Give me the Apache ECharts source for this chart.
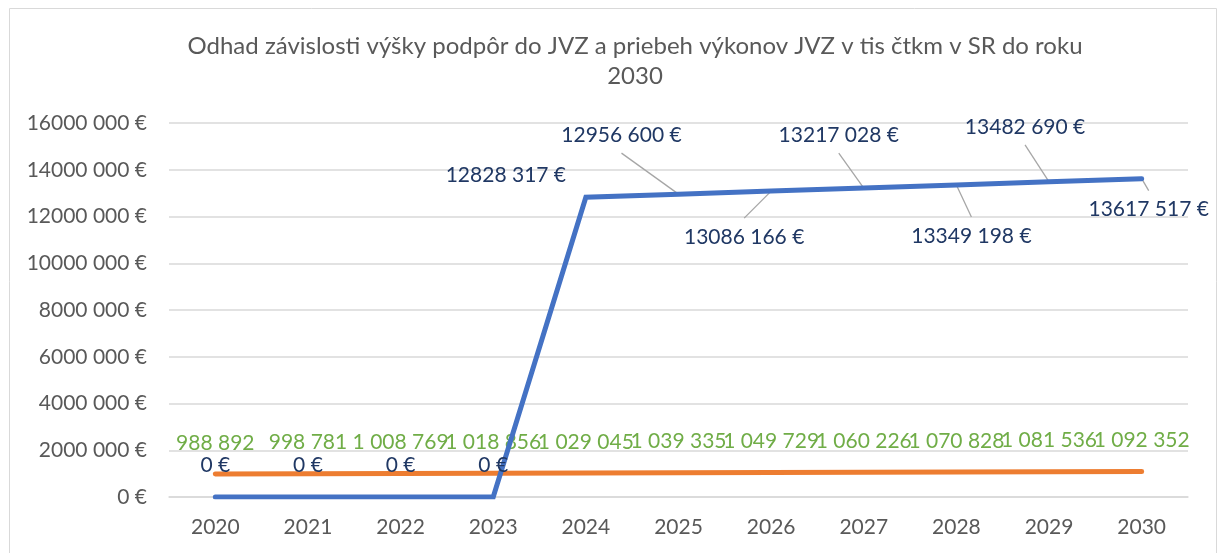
<!DOCTYPE html>
<html>
<head>
<meta charset="utf-8">
<script src="https://cdn.jsdelivr.net/npm/echarts@6/dist/echarts.min.js"></script>
<style>
  html, body { margin: 0; padding: 0; background: #fff; }
  #chart { width: 1219px; height: 553px; }
</style>
</head>
<body>
<div id="chart"></div>
<script>
var roky = ['2020', '2021', '2022', '2023', '2024', '2025', '2026', '2027', '2028', '2029', '2030'];
// výška podpôr (modrá)
var podpory = [0, 0, 0, 0, 12828317, 12956600, 13086166, 13217028, 13349198, 13482690, 13617517];
// výkony JVZ v tis čtkm (oranžová)
var vykony = [988892, 998781, 1008769, 1018856, 1029045, 1039335, 1049729, 1060226, 1070828, 1081536, 1092352];
var osY = { min: 0, max: 16000000, interval: 2000000 };

// posun popisiek modrej čiary (ako v Exceli, ručne posunuté)
var posunPopisiek = [
  [0, -32], [0, -32], [0, -32], [0, -32],
  [-80, -22], [-57, -59], [-27, 46], [-25, -53], [15, 51], [-24, -55], [7, 31]
];
// ktoré popisky majú spojnicu
var spojnice = [0, 0, 0, 0, 0, 1, 1, 1, 1, 1, 1];

var font = 'Lato';
var priehladna = 'rgba(0,0,0,0)';

function formatEur(v) {
  v = Math.round(v);
  if (v < 1000) return v + ' €';
  var t = Math.floor(v / 1000), r = String(v % 1000);
  while (r.length < 3) r = '0' + r;
  return t + ' ' + r + ' €';
}
function formatCislo(v) {
  return String(Math.round(v)).replace(/\B(?=(\d{3})+(?!\d))/g, ' ');
}

var spojniceData = [];
podpory.forEach(function (v, i) {
  if (spojnice[i]) spojniceData.push([i, v]);
});

var chart = echarts.init(document.getElementById('chart'));

var option = {
  animation: false,
  title: {
    text: 'Odhad závislosti výšky podpôr do JVZ a priebeh výkonov JVZ v tis čtkm v SR do roku\n2030',
    left: 630,
    textAlign: 'center',
    top: 26,
    textStyle: {
      color: '#595959',
      fontFamily: font,
      fontWeight: 'normal',
      fontSize: 24,
      lineHeight: 30
    }
  },
  graphic: [{
    type: 'rect',
    shape: { x: 9.5, y: 8.5, width: 1207, height: 560 },
    style: { fill: 'none', stroke: '#D9D9D9', lineWidth: 1 },
    silent: true
  }],
  grid: { left: 169, right: 31, top: 123, bottom: 56 },
  xAxis: {
    type: 'category',
    data: roky,
    boundaryGap: true,
    axisLine: { lineStyle: { color: '#D9D9D9', width: 1.5 } },
    axisTick: { show: false },
    axisLabel: { color: '#595959', fontFamily: font, fontSize: 21, margin: 20 }
  },
  yAxis: {
    type: 'value',
    min: osY.min,
    max: osY.max,
    interval: osY.interval,
    axisLine: { show: false },
    axisTick: { show: false },
    splitLine: { lineStyle: { color: '#D9D9D9', width: 1.5 } },
    axisLabel: {
      color: '#595959', fontFamily: font, fontSize: 21, margin: 22,
      formatter: formatEur
    }
  },
  series: [
    {
      // spojnice popisiek (od bodu k popiske)
      name: 'spojnice',
      type: 'custom',
      data: spojniceData,
      z: 1,
      silent: true,
      renderItem: function (params, api) {
        var i = api.value(0);
        var p = api.coord([i, api.value(1)]);
        var o = posunPopisiek[i];
        var koniecY = p[1] + o[1] + (o[1] < 0 ? 18 : -19);
        return {
          type: 'line',
          shape: { x1: p[0], y1: p[1], x2: p[0] + o[0], y2: koniecY },
          style: { stroke: '#A6A6A6', lineWidth: 1.3 }
        };
      }
    },
    {
      name: 'podpory',
      type: 'line',
      data: podpory,
      symbol: 'circle',
      symbolSize: 1,
      showSymbol: true,
      itemStyle: { color: priehladna },
      lineStyle: { color: '#4472C4', width: 5, cap: 'round', join: 'miter' },
      z: 3,
      label: {
        show: true,
        position: 'inside',
        color: '#203864',
        fontFamily: font,
        fontSize: 21,
        formatter: function (p) { return formatEur(p.value); }
      },
      labelLayout: function (p) {
        var o = posunPopisiek[p.dataIndex];
        return { dx: o[0], dy: o[1] };
      }
    },
    {
      name: 'vykony',
      type: 'line',
      data: vykony,
      symbol: 'circle',
      symbolSize: 1,
      showSymbol: true,
      itemStyle: { color: priehladna },
      lineStyle: { color: '#ED7D31', width: 5, cap: 'round' },
      z: 2,
      label: {
        show: true,
        position: 'top',
        distance: 20,
        color: '#70AD47',
        fontFamily: font,
        fontSize: 21,
        formatter: function (p) { return formatCislo(p.value); }
      }
    }
  ]
};

chart.setOption(option);
</script>
</body>
</html>
